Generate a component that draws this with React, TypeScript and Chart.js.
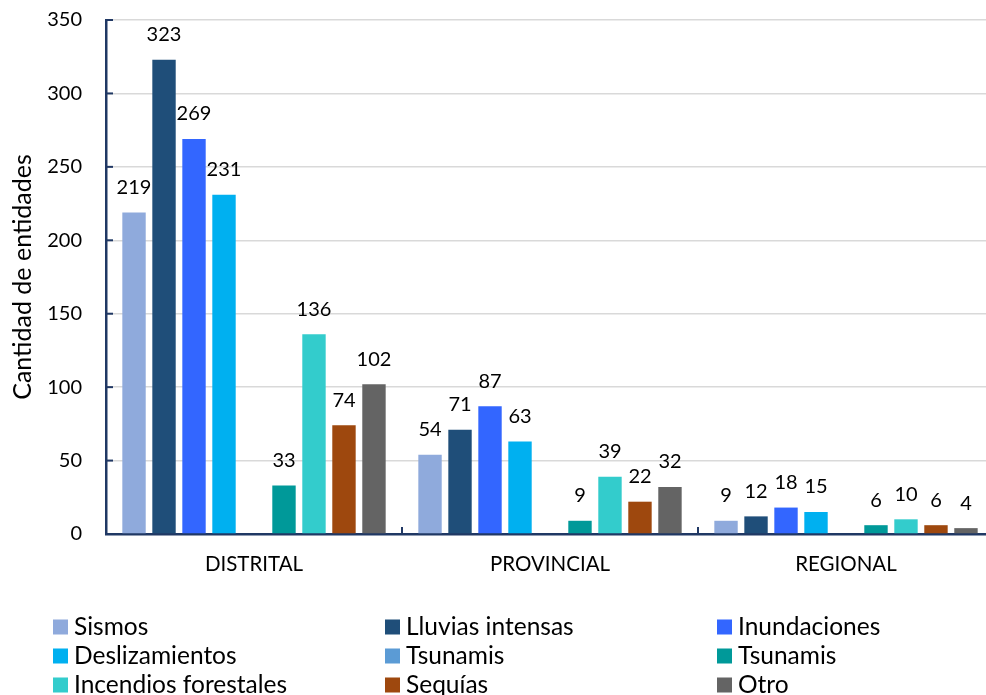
import { useEffect, useRef } from "react";
import { Chart, registerables } from "chart.js";

Chart.register(...registerables);

const categories = ["DISTRITAL", "PROVINCIAL", "REGIONAL"];
const seriesNames = [
  "Sismos",
  "Lluvias intensas",
  "Inundaciones",
  "Deslizamientos",
  "Tsunamis",
  "Tsunamis",
  "Incendios forestales",
  "Sequías",
  "Otro",
];
const sismos = [219, 54, 9];
const lluviasIntensas = [323, 71, 12];
const inundaciones = [269, 87, 18];
const deslizamientos = [231, 63, 15];
const tsunamisA: (number | null)[] = [null, null, null];
const tsunamisB = [33, 9, 6];
const incendiosForestales = [136, 39, 10];
const sequias = [74, 22, 6];
const otro = [102, 32, 4];
const seriesValues = [
  sismos,
  lluviasIntensas,
  inundaciones,
  deslizamientos,
  tsunamisA,
  tsunamisB,
  incendiosForestales,
  sequias,
  otro,
];
const seriesColors = [
  "#8FAADC",
  "#1F4E79",
  "#3366FF",
  "#00B0F0",
  "#5B9BD5",
  "#009999",
  "#33CCCC",
  "#9E480E",
  "#646464",
];
const yMin = 0;
const yMax = 350;
const yStep = 50;
const yTitle = "Cantidad de entidades";

const FONT = "Lato, 'DejaVu Sans', sans-serif";
const AXIS_COLOR = "#203864";

const dataLabelsPlugin = {
  id: "dataLabels",
  afterDatasetsDraw(chart: any) {
    const ctx = chart.ctx;
    ctx.save();
    ctx.font = `20px ${FONT}`;
    ctx.fillStyle = "#000";
    ctx.textAlign = "center";
    ctx.textBaseline = "middle";
    chart.data.datasets.forEach((ds: any, di: number) => {
      const meta = chart.getDatasetMeta(di);
      meta.data.forEach((el: any, i: number) => {
        const v = ds.data[i];
        if (v === null || v === undefined) return;
        ctx.fillText(String(v), el.x, el.y - 25);
      });
    });
    ctx.restore();
  },
};

const axisTicksPlugin = {
  id: "axisTicks",
  afterDraw(chart: any) {
    const ctx = chart.ctx;
    const { left, bottom } = chart.chartArea;
    const ys = chart.scales.y;
    const xs = chart.scales.x;
    ctx.save();
    ctx.strokeStyle = AXIS_COLOR;
    ctx.lineWidth = 2;
    ys.ticks.forEach((t: any) => {
      const y = ys.getPixelForValue(t.value);
      ctx.beginPath();
      ctx.moveTo(left, y);
      ctx.lineTo(left + 7, y);
      ctx.stroke();
    });
    const n = chart.data.labels.length;
    const w = (xs.right - xs.left) / n;
    for (let i = 1; i <= n; i++) {
      const x = xs.left + i * w;
      ctx.beginPath();
      ctx.moveTo(x, bottom);
      ctx.lineTo(x, bottom - 7);
      ctx.stroke();
    }
    ctx.restore();
  },
};

const legendPlugin = {
  id: "gridLegend",
  afterDraw(chart: any) {
    const ctx = chart.ctx;
    const colX0 = 53;
    const colStep = 332;
    const rowY0 = 627;
    const rowStep = 29;
    ctx.save();
    ctx.font = `24.5px ${FONT}`;
    ctx.textAlign = "left";
    ctx.textBaseline = "middle";
    chart.data.datasets.forEach((ds: any, i: number) => {
      const col = i % 3;
      const row = Math.floor(i / 3);
      const x = colX0 + col * colStep;
      const y = rowY0 + row * rowStep;
      ctx.fillStyle = ds.backgroundColor;
      ctx.fillRect(x, y - 7.5, 15, 15);
      ctx.fillStyle = "#000";
      ctx.fillText(ds.label, x + 21, y);
    });
    ctx.restore();
  },
};

export default function App() {
  const ref = useRef<HTMLCanvasElement | null>(null);
  useEffect(() => {
    if (!ref.current) return;
    const chart = new Chart(ref.current, {
      type: "bar",
      data: {
        labels: categories,
        datasets: seriesNames.map((name, i) => ({
          label: name,
          data: seriesValues[i],
          backgroundColor: seriesColors[i],
          borderWidth: 0,
          categoryPercentage: 0.912,
          barPercentage: 0.78,
        })),
      },
      options: {
        animation: false,
        responsive: true,
        maintainAspectRatio: false,
        layout: { padding: { top: 20, left: 0, right: 0, bottom: 111 } },
        plugins: {
          legend: { display: false },
          tooltip: { enabled: false },
          title: { display: false },
        },
        scales: {
          x: {
            grid: { display: false, drawTicks: false },
            border: { display: true, color: AXIS_COLOR, width: 2.5 },
            ticks: {
              color: "#000",
              font: { family: FONT, size: 20.5 },
              padding: 18,
            },
            afterFit: (scale: any) => {
              scale.height = 50;
              scale.paddingLeft = 0;
              scale.paddingRight = 0;
            },
          },
          y: {
            min: yMin,
            max: yMax,
            ticks: {
              stepSize: yStep,
              color: "#000",
              font: { family: FONT, size: 20 },
              padding: 24,
            },
            grid: { color: "#D9D9D9", lineWidth: 1.5, drawTicks: false },
            border: { display: true, color: AXIS_COLOR, width: 2.5 },
            title: {
              display: true,
              text: yTitle,
              color: "#000",
              font: { family: FONT, size: 25 },
              padding: { top: 8, bottom: 0 },
            },
            afterFit: (scale: any) => {
              scale.width = 106;
              scale.paddingTop = 0;
              scale.paddingBottom = 0;
            },
          },
        },
      },
      plugins: [dataLabelsPlugin, axisTicksPlugin, legendPlugin],
    });
    return () => chart.destroy();
  }, []);
  return (
    <div
      style={{
        position: "fixed",
        left: 0,
        top: 0,
        width: 986,
        height: 695,
        overflow: "hidden",
        background: "#fff",
      }}
    >
      <div style={{ width: 994, height: 695, position: "relative" }}>
        <canvas ref={ref} />
      </div>
    </div>
  );
}
